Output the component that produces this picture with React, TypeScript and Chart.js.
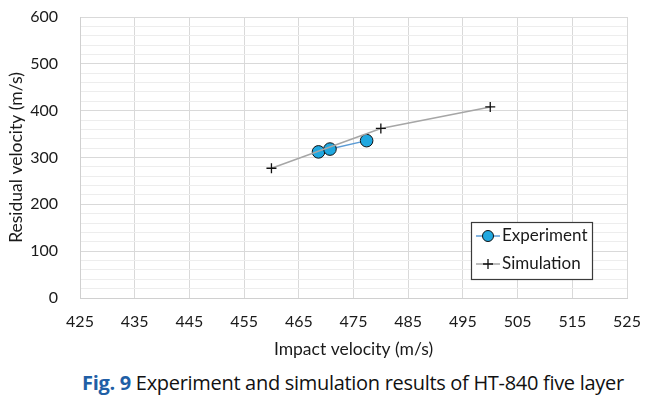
import React, { useEffect, useRef } from "react";
import { Chart, registerables } from "chart.js";

Chart.register(...registerables);

const simX = [460, 480, 500];
const simY = [277, 362, 408];
const expX = [468.6, 470.7, 477.4];
const expY = [312, 318, 336];
const seriesNames = ["Experiment", "Simulation"];
const xTitle = "Impact velocity (m/s)";
const yTitle = "Residual velocity (m/s)";
const captionLabel = "Fig. 9";
const captionText = " Experiment and simulation results of HT-840 five layer";

const FONT = "Lato, 'Open Sans', sans-serif";

const legendPlugin = {
  id: "boxLegend",
  afterDatasetsDraw(chart: any) {
    const ctx = chart.ctx;
    const x0 = 471, y0 = 222, w = 121, h = 57;
    ctx.save();
    ctx.fillStyle = "#ffffff";
    ctx.fillRect(x0, y0, w, h);
    ctx.strokeStyle = "#3a3a3a";
    ctx.lineWidth = 1.2;
    ctx.strokeRect(x0 + 0.5, y0 + 0.5, w, h);
    // Experiment
    let cy = 236;
    ctx.strokeStyle = "#5b9bd5";
    ctx.lineWidth = 1.5;
    ctx.beginPath();
    ctx.moveTo(476, cy);
    ctx.lineTo(500, cy);
    ctx.stroke();
    ctx.fillStyle = "#20a8e0";
    ctx.strokeStyle = "#111";
    ctx.lineWidth = 1;
    ctx.beginPath();
    ctx.arc(488, cy, 5.5, 0, Math.PI * 2);
    ctx.fill();
    ctx.stroke();
    ctx.fillStyle = "#1a1a1a";
    ctx.font = "17px " + FONT;
    ctx.textBaseline = "middle";
    ctx.textAlign = "left";
    ctx.fillText(seriesNames[0], 502, cy);
    // Simulation
    cy = 264;
    ctx.strokeStyle = "#a6a6a6";
    ctx.lineWidth = 1.5;
    ctx.beginPath();
    ctx.moveTo(476, cy);
    ctx.lineTo(500, cy);
    ctx.stroke();
    ctx.strokeStyle = "#111";
    ctx.lineWidth = 1.3;
    ctx.beginPath();
    ctx.moveTo(483, cy);
    ctx.lineTo(493, cy);
    ctx.moveTo(488, cy - 5);
    ctx.lineTo(488, cy + 5);
    ctx.stroke();
    ctx.fillText(seriesNames[1], 502, cy);
    ctx.restore();
  },
};

export default function App() {
  const ref = useRef<HTMLCanvasElement>(null);
  useEffect(() => {
    document.body.style.margin = "0";
    const chart = new Chart(ref.current as HTMLCanvasElement, {
      type: "scatter",
      data: {
        datasets: [
          {
            label: seriesNames[1],
            data: simX.map((x, i) => ({ x, y: simY[i] })),
            showLine: true,
            borderColor: "#a6a6a6",
            borderWidth: 1.5,
            pointStyle: "cross",
            pointRadius: 5,
            pointBorderColor: "#111",
            pointBorderWidth: 1.3,
            pointBackgroundColor: "#111",
          },
          {
            label: seriesNames[0],
            data: expX.map((x, i) => ({ x, y: expY[i] })),
            showLine: true,
            borderColor: "#5b9bd5",
            borderWidth: 1.5,
            pointStyle: "circle",
            pointRadius: 6.3,
            pointBorderColor: "#111",
            pointBorderWidth: 1,
            pointBackgroundColor: "#20a8e0",
          },
        ],
      },
      options: {
        animation: false,
        responsive: false,
        layout: { padding: { top: 17, right: 31, left: 0, bottom: 0 } },
        plugins: { legend: { display: false }, tooltip: { enabled: false } },
        scales: {
          x: {
            type: "linear",
            min: 425,
            max: 525,
            border: { display: true, color: "#d0d0d0", width: 1 },
            grid: { color: "#d9d9d9", drawTicks: false, lineWidth: 1 },
            ticks: {
              stepSize: 10,
              padding: 14,
              color: "#1a1a1a",
              font: { family: FONT, size: 16 },
              maxRotation: 0,
              autoSkip: false,
            },
            title: {
              display: true,
              text: xTitle,
              color: "#1a1a1a",
              font: { family: FONT, size: 17.5 },
              padding: { top: 0, bottom: 0 },
            },
            afterFit: (s: any) => {
              s.height = 62;
            },
          },
          y: {
            type: "linear",
            min: 0,
            max: 600,
            border: { display: true, color: "#d0d0d0", width: 1 },
            grid: {
              drawTicks: true,
              tickLength: 18,
              tickColor: "rgba(0,0,0,0)",
              color: (c: any) => (c.tick && c.tick.value % 100 === 0 ? "#d9d9d9" : "#ededed"),
              lineWidth: 1,
            },
            ticks: {
              stepSize: 20,
              padding: 4,
              color: "#1a1a1a",
              font: { family: FONT, size: 16 },
              autoSkip: false,
              callback: (v: any) => (Number(v) % 100 === 0 ? String(v) : ""),
            },
            title: {
              display: true,
              text: yTitle,
              color: "#1a1a1a",
              font: { family: FONT, size: 17.5 },
              padding: { top: 6, bottom: 0 },
            },
            afterFit: (s: any) => {
              s.width = 80;
            },
          },
        },
      } as any,
      plugins: [legendPlugin],
    });
    return () => chart.destroy();
  }, []);

  return (
    <div style={{ position: "relative", width: 658, height: 406, background: "#fff" }}>
      <canvas ref={ref} width={658} height={360} style={{ display: "block" }} />
      <div
        style={{
          position: "absolute",
          left: 82,
          top: 370,
          fontFamily: "'Open Sans', sans-serif",
          fontSize: 20,
          lineHeight: "26px",
          color: "#111",
          whiteSpace: "nowrap",
          letterSpacing: "-0.3px",
        }}
      >
        <span style={{ color: "#1f5fa6", fontWeight: 700 }}>{captionLabel}</span>
        {captionText}
      </div>
    </div>
  );
}
